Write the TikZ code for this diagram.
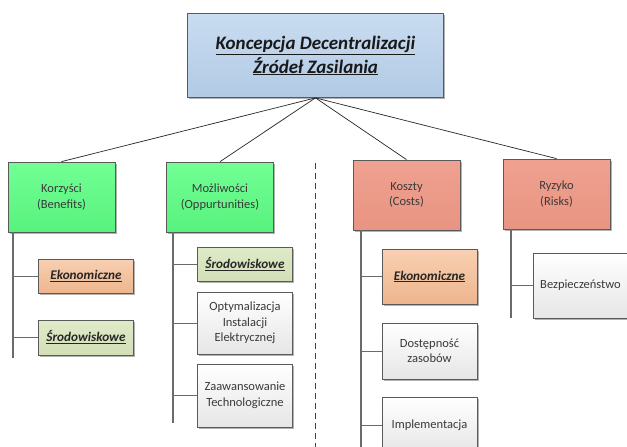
\documentclass[tikz,border=0pt]{standalone}
\usepackage{fontspec}
\setmainfont{Carlito}
\usetikzlibrary{shadows}
\definecolor{bordc}{HTML}{5A5A5A}
\definecolor{txtc}{HTML}{3A3A3A}
\definecolor{barc}{HTML}{6A6A6A}
\begin{document}
\begin{tikzpicture}[x=1pt,y=-1pt,
  box/.style={draw=bordc,line width=0.8pt,rectangle,inner sep=2pt,align=center,
    text=txtc,font=\fontsize{12.5}{15.5}\selectfont,
    drop shadow={shadow xshift=1.5pt,shadow yshift=-1.5pt,opacity=0.3,fill=black}},
  rootbox/.style={box,top color=rootT,bottom color=rootB,minimum width=256pt,minimum height=84pt,
    text=black!90,font=\fontsize{19}{24}\selectfont\bfseries\itshape},
  greenbox/.style={box,top color=greenT,bottom color=greenB,minimum width=107pt,minimum height=70pt},
  redbox/.style={box,top color=redT,bottom color=redB,minimum width=107pt,minimum height=70pt},
  peachbox/.style={box,top color=peachT,bottom color=peachB,minimum width=95pt,
    text=black!85,font=\fontsize{13.2}{16}\selectfont\bfseries\itshape},
  olivebox/.style={box,top color=oliveT,bottom color=oliveB,minimum width=95pt,
    text=black!85,font=\fontsize{13.2}{16}\selectfont\bfseries\itshape},
  whitebox/.style={box,top color=white,bottom color=whiteB,minimum width=95pt},
  link/.style={draw=black!85,line width=0.7pt},
  bar/.style={draw=barc,line width=2.6pt},
  twig/.style={draw=barc,line width=0.8pt},
  sep/.style={draw=black!75,line width=0.7pt,dash pattern=on 6pt off 4pt}
]
\definecolor{rootT}{HTML}{C9DCF0}
\definecolor{rootB}{HTML}{B2CAE5}
\definecolor{greenT}{HTML}{72FF94}
\definecolor{greenB}{HTML}{58F27E}
\definecolor{redT}{HTML}{F0A190}
\definecolor{redB}{HTML}{E89482}
\definecolor{peachT}{HTML}{F8D0B2}
\definecolor{peachB}{HTML}{EEB58E}
\definecolor{oliveT}{HTML}{DFEAC8}
\definecolor{oliveB}{HTML}{D2DFB6}
\definecolor{whiteB}{HTML}{E6E6E6}

\useasboundingbox (0,0) rectangle (627,447);
\clip (0,0) rectangle (627,447);

% top
\node[rootbox] (root) at (315.5,55.5) {\underline{Koncepcja Decentralizacji}\\\underline{Źródeł Zasilania}};

% categories
\node[greenbox] (kor) at (61.5,197) {Korzyści\\(Benefits)};
\node[greenbox] (moz) at (220,197) {Możliwości\\(Oppurtunities)};
\node[redbox] (kosz) at (406.5,195) {Koszty\\(Costs)};
\node[redbox] (ryz) at (556.5,194) {Ryzyko\\(Risks)};

% children
\node[peachbox,minimum height=34pt] (ekon1) at (86,276) {\underline{Ekonomiczne}};
\node[olivebox,minimum height=35pt] (srod1) at (86,337.5) {\underline{Środowiskowe}};

\node[olivebox,minimum height=34pt] (srod2) at (245,264) {\underline{Środowiskowe}};
\node[whitebox,minimum height=62pt] (opt) at (245,323) {Optymalizacja\\Instalacji\\Elektrycznej};
\node[whitebox,minimum height=63pt] (zaaw) at (245,395.5) {Zaawansowanie\\Technologiczne};

\node[peachbox,minimum height=55pt] (ekon2) at (429.5,276.5) {\underline{Ekonomiczne}};
\node[whitebox,minimum height=56pt] (dost) at (429.5,351) {Dostępność\\zasobów};
\node[whitebox,minimum height=55pt] (impl) at (429.5,425) {Implementacja};

\node[whitebox,minimum height=65pt] (bez) at (580.5,285.5) {Bezpieczeństwo};

% links from root
\draw[link] (root.south) -- (kor.north);
\draw[link] (root.south) -- (moz.north);
\draw[link] (root.south) -- (kosz.north);
\draw[link] (root.south) -- (ryz.north);

% separator
\coordinate (dtop) at (315,163);
\coordinate (dbot) at (315,447);
\draw[sep] (dtop) -- (dbot);

% bars
\coordinate (korbar) at (13,358);
\coordinate (mozbar) at (173,423);
\coordinate (koszbar) at (361,450);
\coordinate (ryzbar) at (511,318);
\draw[bar] (kor.south west -| korbar) -- (korbar);
\draw[bar] (moz.south west -| mozbar) -- (mozbar);
\draw[bar] (kosz.south west -| koszbar) -- (koszbar);
\draw[bar] (ryz.south west -| ryzbar) -- (ryzbar);

% twigs
\draw[twig] (ekon1.west -| korbar) -- (ekon1.west);
\draw[twig] (srod1.west -| korbar) -- (srod1.west);
\draw[twig] (srod2.west -| mozbar) -- (srod2.west);
\draw[twig] (opt.west -| mozbar) -- (opt.west);
\draw[twig] (zaaw.west -| mozbar) -- (zaaw.west);
\draw[twig] (ekon2.west -| koszbar) -- (ekon2.west);
\draw[twig] (dost.west -| koszbar) -- (dost.west);
\draw[twig] (impl.west -| koszbar) -- (impl.west);
\draw[twig] (bez.west -| ryzbar) -- (bez.west);
\end{tikzpicture}
\end{document}
